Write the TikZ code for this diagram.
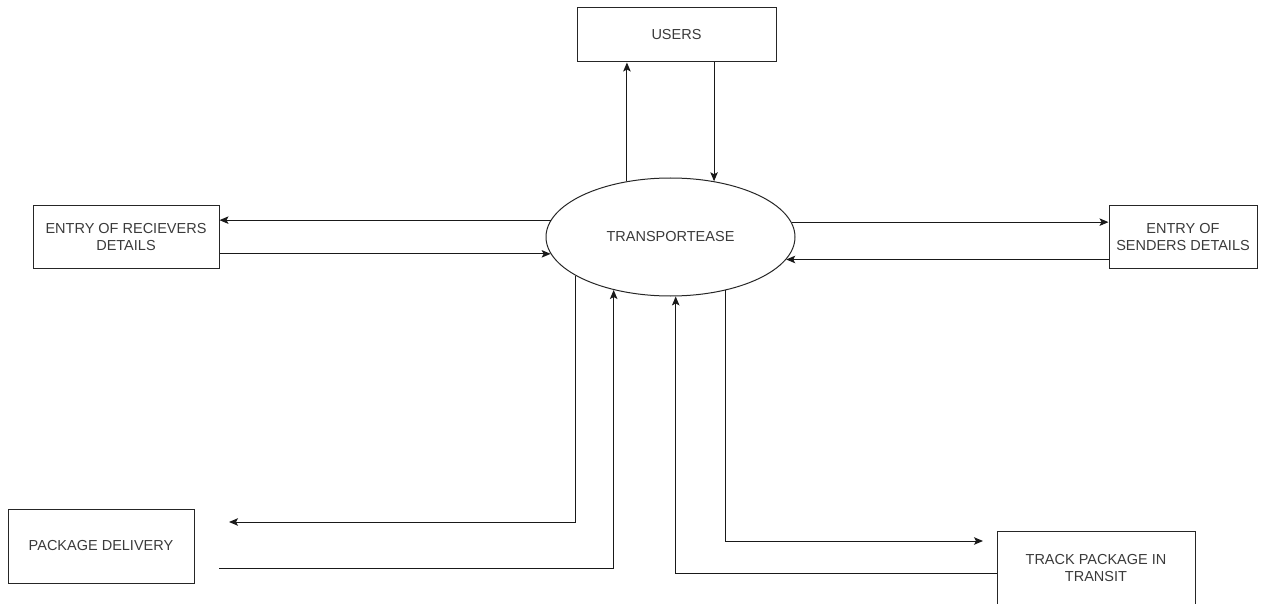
\documentclass[tikz,border=0pt]{standalone}
\usepackage{fontspec}
\setmainfont{Liberation Sans}
\usetikzlibrary{arrows.meta,shapes.geometric}

\definecolor{txt}{HTML}{3A3A3A}

\begin{document}
\begin{tikzpicture}[x=1pt,y=-1pt,
  every node/.style={font=\fontsize{14.5}{17}\selectfont, text=txt, align=center, inner sep=0pt},
  entity/.style={draw=black!85, line width=1pt, rectangle},
  process/.style={draw=black!85, line width=1pt, ellipse},
  flow/.style={draw=black!90, line width=1pt, -{Stealth[length=9pt,width=7.5pt,inset=2pt]}},
  plain/.style={draw=black!90, line width=1pt}
]
\useasboundingbox (0,0) rectangle (1264,604);

% entities and the central process
\node[entity, minimum width=199pt, minimum height=54pt] (U) at (676.5,35) {USERS};
\node[process, minimum width=249pt, minimum height=118pt] (E) at (670.5,237) {TRANSPORTEASE};
\node[entity, minimum width=186pt, minimum height=63pt] (L) at (126,237.5) {ENTRY OF RECIEVERS\\DETAILS};
\node[entity, minimum width=148pt, minimum height=63pt] (R) at (1183,237.5) {ENTRY OF\\SENDERS DETAILS};
\node[entity, minimum width=186pt, minimum height=74pt] (P) at (101,546) {PACKAGE DELIVERY};
\node[entity, minimum width=198pt, minimum height=75pt] (T) at (1096,568.5) {TRACK PACKAGE IN\\TRANSIT};

% loose ends near the lower boxes
\coordinate (pdin) at (229,522);
\coordinate (pdout) at (219,568);
\coordinate (tkin) at (983,541);

% users
\draw[flow] (E.128.2) -- (E.128.2 |- U.south);
\draw[flow] (E.52.6 |- U.south) -- (E.52.6);

% receivers
\draw[flow] (E.172.9) -- (E.172.9 -| L.east);
\draw[flow] (E.188.6 -| L.east) -- (E.188.6);

% senders
\draw[flow] (E.7.1) -- (E.7.1 -| R.west);
\draw[flow] (E.349.2 -| R.west) -- (E.349.2);

% package delivery
\draw[flow] (E.202.6) |- (pdin);
\draw[flow] (pdout) -| (E.223);

% tracking
\draw[flow] (E.316.4) |- (tkin);
\draw[flow] ([yshift=-4.5pt]T.west) -| (E.275.3);
\end{tikzpicture}
\end{document}
